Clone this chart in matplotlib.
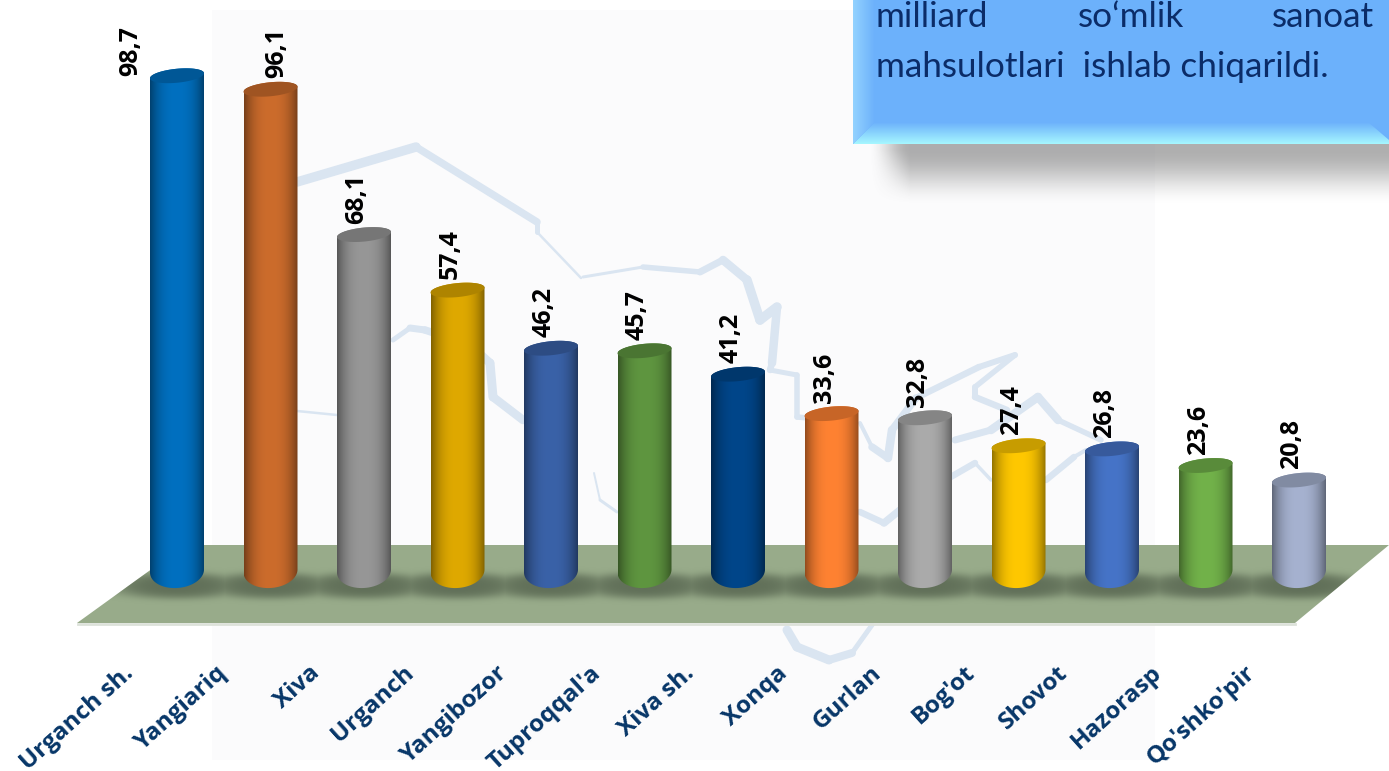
import numpy as np
import matplotlib
matplotlib.use('Agg')
import matplotlib.pyplot as plt
from matplotlib.patches import Polygon, Rectangle, PathPatch
from matplotlib.path import Path
from matplotlib.colors import to_rgb

districts = ['Urganch sh.', 'Yangiariq', 'Xiva', 'Urganch', 'Yangibozor', "Tuproqqal'a", 'Xiva sh.',
             'Xonqa', 'Gurlan', "Bog'ot", 'Shovot', 'Hazorasp', "Qo'shko'pir"]
values = [98.7, 96.1, 68.1, 57.4, 46.2, 45.7, 41.2, 33.6, 32.8, 27.4, 26.8, 23.6, 20.8]
bar_colors = ['#0070C0', '#CC6C2C', '#979797', '#DFA900', '#3A62A8', '#5F9640', '#00468A',
              '#FF8232', '#ABABAB', '#FFC800', '#4674C8', '#72B24A', '#A6B2D0']
value_labels = [str(v).replace('.', ',') for v in values]

W, H = 1389, 771
X0, DX = 177, 93.5      # first bar centre and bar spacing, pixels
Y0, KY = 588, 5.19      # pixel row of value 0, pixels per unit

plt.rcParams['font.family'] = ['Lato', 'DejaVu Sans']
fig = plt.figure(figsize=(W / 100, H / 100), dpi=100, facecolor='white')

# background layer in pixel coordinates
bg = fig.add_axes([0, 0, 1, 1])
bg.set_xlim(0, W)
bg.set_ylim(H, 0)
bg.axis('off')
bg.add_patch(Rectangle((212, 10), 943, 750, color='#FBFBFC', lw=0, zorder=0))

# faint map outline behind the chart: xs, ys, stroke width at each point
map_lines = [
    ([297, 416, 537, 537, 581], [182, 147, 222, 232, 278], [10, 9, 6, 4, 1]),
    ([583, 643, 700, 723, 747, 760, 777, 772, 770, 797, 797, 808], [277, 267, 272, 260, 280, 320, 307, 363, 370, 375, 417, 418], [1, 5, 6, 8, 9, 10, 9, 8, 5, 5, 6, 5]),
    ([393, 410, 425, 470, 490, 493, 523], [340, 328, 330, 345, 363, 397, 420], [3, 7, 7, 8, 9, 9, 8]),
    ([297, 337], [411, 415], [4, 1]),
    ([860, 872, 888, 892, 916, 979, 1015, 975, 975, 1007], [423, 447, 458, 430, 398, 367, 355, 387, 397, 410], [2, 6, 9, 8, 7, 6, 6, 5, 7, 6]),
    ([594, 600, 617], [473, 500, 512], [1, 3, 3]),
    ([860, 884, 916, 975, 991], [512, 523, 497, 463, 480], [5, 8, 7, 6, 1]),
    ([955, 991, 1038, 1058, 1101], [440, 430, 397, 420, 440], [6, 8, 9, 8, 3]),
    ([1046, 1074, 1086], [480, 457, 450], [8, 5, 3]),
    ([787, 797, 829, 852, 872], [630, 647, 660, 653, 625], [9, 9, 9, 7, 3]),
]
for xs, ys, widths in map_lines:
    for j in range(len(xs) - 1):
        bg.plot(xs[j:j + 2], ys[j:j + 2], color='#DAE5F1', lw=(widths[j] + widths[j + 1]) / 2 * 0.72,
                solid_capstyle='round', zorder=1)

# floor
bg.plot([78, 1295], [624, 624], color='#DDE2DA', lw=2, zorder=2)
floor = Polygon([(77, 623), (185, 545), (1389, 545), (1295, 623)], closed=True, color='#98AB8A', lw=0, zorder=2)
bg.add_patch(floor)

# shadow under the callout box
yy, xx = np.mgrid[144:215, 860:W]
sh = np.clip((205 - yy) / 55, 0, 1) * np.clip((xx - 868) / 42, 0, 1)
sh = sh * sh * (3 - 2 * sh)
sh_img = np.zeros(yy.shape + (4,))
sh_img[..., :3] = 0.38
sh_img[..., 3] = sh * 0.5
bg.imshow(sh_img, extent=(860, W, 215, 144), aspect='auto', zorder=3)

# callout box with bevels
box_rgb = np.array(to_rgb('#6CB1FB'))
bg.add_patch(Rectangle((853, -2), W - 853, 146, color='#6CB1FB', lw=0, zorder=4))
t = np.linspace(0, 1, 40)
bot = (box_rgb[None, None, :] * (1 - t[:, None, None]) + np.array(to_rgb('#A6F6FF'))[None, None, :] * t[:, None, None]) 
im = bg.imshow(bot, extent=(853, W, 144, 122), aspect='auto', zorder=5)
clip = Polygon([(853, 144), (875, 122), (1368, 122), (1389, 140), (1389, 144)], closed=True, transform=bg.transData)
im.set_clip_path(clip)
left = (np.array(to_rgb('#93D2FF'))[None, None, :] * (1 - t[None, :, None]) + box_rgb[None, None, :] * t[None, :, None])
im = bg.imshow(left, extent=(853, 875, 144, 0), aspect='auto', zorder=5)
clip = Polygon([(853, 0), (875, 0), (875, 122), (853, 144)], closed=True, transform=bg.transData)
im.set_clip_path(clip)

text_kw = dict(fontsize=25.3, color='#0B2C68', zorder=6, va='baseline')
bg.text(876, 27, 'milliard', ha='left', **text_kw)
bg.text(1078, 27, 'so‘mlik', ha='left', **text_kw)
bg.text(1374, 27, 'sanoat', ha='right', **text_kw)
bg.text(876, 77, 'mahsulotlari  ishlab chiqarildi.', ha='left', **text_kw)
bg.set_xlim(0, W)
bg.set_ylim(H, 0)

# chart layer: x is the bar index, y the value
ax = fig.add_axes([0, 0, 1, 1], facecolor='none')
ax.set_xlim(-X0 / DX, (W - X0) / DX)
ax.set_ylim(-(H - Y0) / KY, Y0 / KY)
ax.axis('off')

half_w = 27 / DX
cap_h = 7 / KY
tilt = 2.5 / KY
foot = 17 / KY

# soft shadows on the floor
xi = np.linspace(-0.9, 12.9, 700)
yi = np.linspace(-10, 6, 80)
gx, gy = np.meshgrid(xi, yi)
alpha = np.zeros(gx.shape)
for i in range(len(values)):
    d = (np.abs(gx - i) * DX / 74) ** 2 + (np.abs(gy - 0.4) * KY / 15) ** 2
    alpha = np.maximum(alpha, np.exp(-d * d * 1.6))
shadow = np.zeros(gx.shape + (4,))
shadow[..., :3] = to_rgb('#4A5744')
shadow[..., 3] = alpha * 0.7
im = ax.imshow(shadow, extent=(xi[0], xi[-1], yi[0], yi[-1]), origin='lower', aspect='auto', zorder=1)
im.set_clip_path(Polygon(floor.get_xy(), closed=True, transform=bg.transData))

# cylinders
for i, (val, col) in enumerate(zip(values, bar_colors)):
    rgb = np.array(to_rgb(col))
    # outline: top half of the cap, right side, rounded foot, left side
    top = np.linspace(np.pi, 0, 50)
    bottom = np.linspace(0, -np.pi, 50)
    px = np.concatenate([i + half_w * np.cos(top), i + half_w * np.cos(bottom)])
    py = np.concatenate([val + cap_h * np.sin(top) + tilt * np.cos(top),
                         foot + foot * np.sin(bottom) + 0.6 * tilt * np.cos(bottom)])
    outline = Path(np.column_stack([px, py]))

    shade = 1 - 0.42 * np.abs(np.linspace(-1, 1, 81)) ** 2.6
    grad = (rgb[None, None, :] * shade[None, :, None]).clip(0, 1)
    im = ax.imshow(grad, extent=(i - half_w, i + half_w, -1, val + 3), aspect='auto', zorder=3)
    im.set_clip_path(PathPatch(outline, transform=ax.transData))

    a = np.linspace(0, 2 * np.pi, 80)
    cap = np.column_stack([i + half_w * np.cos(a), val + cap_h * np.sin(a) + tilt * np.cos(a)])
    ax.add_patch(Polygon(cap, closed=True, facecolor=rgb * 0.78, lw=0, zorder=4))

# value labels, the first two were moved by hand in the original
label_shift = {0: (-46, -11), 1: (6, 0)}
for i, (val, lab) in enumerate(zip(values, value_labels)):
    dx, dy = label_shift.get(i, (-7, 0))
    ax.annotate(lab, xy=(i, val), xytext=(dx, 11 + dy), textcoords='offset pixels', rotation=90,
                ha='center', va='bottom', fontsize=18, fontweight='bold', family='Open Sans',
                color='black', zorder=6)

# category labels
for i, name in enumerate(districts):
    ax.annotate(name, xy=(i, 0), xytext=(-47, -82), textcoords='offset pixels', rotation=42,
                rotation_mode='anchor', ha='right', va='center', fontsize=17.5, fontweight='bold',
                family='Open Sans', color='#073668', zorder=6)

fig.savefig('out.png', dpi=100)
